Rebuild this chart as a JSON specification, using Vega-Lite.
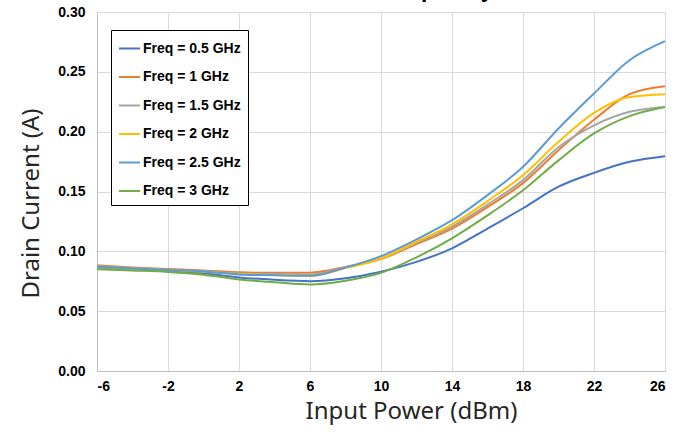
{
  "$schema": "https://vega.github.io/schema/vega-lite/v6.json",
  "autosize": {"type": "none"},
  "padding": {"left": 97, "top": 12, "right": 26, "bottom": 61},
  "width": 568,
  "height": 359,
  "background": "white",
  "title": {
    "text": "Drain Current vs. Frequency",
    "font": "Liberation Sans",
    "fontSize": 23,
    "fontWeight": "bold",
    "color": "#000000",
    "anchor": "middle",
    "frame": "group",
    "dx": -42,
    "baseline": "alphabetic",
    "offset": -15
  },
  "datasets": {
    "curves": [
      {"f": "Freq = 0.5 GHz", "p": -6, "i": 0.0866}, {"f": "Freq = 0.5 GHz", "p": -4, "i": 0.0853}, {"f": "Freq = 0.5 GHz", "p": -2, "i": 0.0840}, {"f": "Freq = 0.5 GHz", "p": 0, "i": 0.0816}, {"f": "Freq = 0.5 GHz", "p": 2, "i": 0.0782}, {"f": "Freq = 0.5 GHz", "p": 4, "i": 0.0762}, {"f": "Freq = 0.5 GHz", "p": 6, "i": 0.0751}, {"f": "Freq = 0.5 GHz", "p": 8, "i": 0.0775}, {"f": "Freq = 0.5 GHz", "p": 10, "i": 0.0830}, {"f": "Freq = 0.5 GHz", "p": 12, "i": 0.0912}, {"f": "Freq = 0.5 GHz", "p": 14, "i": 0.1025}, {"f": "Freq = 0.5 GHz", "p": 16, "i": 0.1190}, {"f": "Freq = 0.5 GHz", "p": 18, "i": 0.1360}, {"f": "Freq = 0.5 GHz", "p": 20, "i": 0.1540}, {"f": "Freq = 0.5 GHz", "p": 22, "i": 0.1656}, {"f": "Freq = 0.5 GHz", "p": 24, "i": 0.1748}, {"f": "Freq = 0.5 GHz", "p": 26, "i": 0.1795},
      {"f": "Freq = 1 GHz", "p": -6, "i": 0.0883}, {"f": "Freq = 1 GHz", "p": -4, "i": 0.0865}, {"f": "Freq = 1 GHz", "p": -2, "i": 0.0852}, {"f": "Freq = 1 GHz", "p": 0, "i": 0.0840}, {"f": "Freq = 1 GHz", "p": 2, "i": 0.0825}, {"f": "Freq = 1 GHz", "p": 4, "i": 0.0820}, {"f": "Freq = 1 GHz", "p": 6, "i": 0.0822}, {"f": "Freq = 1 GHz", "p": 8, "i": 0.0870}, {"f": "Freq = 1 GHz", "p": 10, "i": 0.0935}, {"f": "Freq = 1 GHz", "p": 12, "i": 0.1060}, {"f": "Freq = 1 GHz", "p": 14, "i": 0.1190}, {"f": "Freq = 1 GHz", "p": 16, "i": 0.1370}, {"f": "Freq = 1 GHz", "p": 18, "i": 0.1570}, {"f": "Freq = 1 GHz", "p": 20, "i": 0.1845}, {"f": "Freq = 1 GHz", "p": 22, "i": 0.2100}, {"f": "Freq = 1 GHz", "p": 24, "i": 0.2313}, {"f": "Freq = 1 GHz", "p": 26, "i": 0.2380},
      {"f": "Freq = 1.5 GHz", "p": -6, "i": 0.0875}, {"f": "Freq = 1.5 GHz", "p": -4, "i": 0.0860}, {"f": "Freq = 1.5 GHz", "p": -2, "i": 0.0848}, {"f": "Freq = 1.5 GHz", "p": 0, "i": 0.0835}, {"f": "Freq = 1.5 GHz", "p": 2, "i": 0.0815}, {"f": "Freq = 1.5 GHz", "p": 4, "i": 0.0810}, {"f": "Freq = 1.5 GHz", "p": 6, "i": 0.0805}, {"f": "Freq = 1.5 GHz", "p": 8, "i": 0.0865}, {"f": "Freq = 1.5 GHz", "p": 10, "i": 0.0940}, {"f": "Freq = 1.5 GHz", "p": 12, "i": 0.1070}, {"f": "Freq = 1.5 GHz", "p": 14, "i": 0.1206}, {"f": "Freq = 1.5 GHz", "p": 16, "i": 0.1390}, {"f": "Freq = 1.5 GHz", "p": 18, "i": 0.1595}, {"f": "Freq = 1.5 GHz", "p": 20, "i": 0.1870}, {"f": "Freq = 1.5 GHz", "p": 22, "i": 0.2053}, {"f": "Freq = 1.5 GHz", "p": 24, "i": 0.2166}, {"f": "Freq = 1.5 GHz", "p": 26, "i": 0.2207},
      {"f": "Freq = 2 GHz", "p": -6, "i": 0.0868}, {"f": "Freq = 2 GHz", "p": -4, "i": 0.0855}, {"f": "Freq = 2 GHz", "p": -2, "i": 0.0843}, {"f": "Freq = 2 GHz", "p": 0, "i": 0.0830}, {"f": "Freq = 2 GHz", "p": 2, "i": 0.0810}, {"f": "Freq = 2 GHz", "p": 4, "i": 0.0803}, {"f": "Freq = 2 GHz", "p": 6, "i": 0.0795}, {"f": "Freq = 2 GHz", "p": 8, "i": 0.0860}, {"f": "Freq = 2 GHz", "p": 10, "i": 0.0940}, {"f": "Freq = 2 GHz", "p": 12, "i": 0.1080}, {"f": "Freq = 2 GHz", "p": 14, "i": 0.1226}, {"f": "Freq = 2 GHz", "p": 16, "i": 0.1420}, {"f": "Freq = 2 GHz", "p": 18, "i": 0.1636}, {"f": "Freq = 2 GHz", "p": 20, "i": 0.1915}, {"f": "Freq = 2 GHz", "p": 22, "i": 0.2157}, {"f": "Freq = 2 GHz", "p": 24, "i": 0.2290}, {"f": "Freq = 2 GHz", "p": 26, "i": 0.2313},
      {"f": "Freq = 2.5 GHz", "p": -6, "i": 0.0870}, {"f": "Freq = 2.5 GHz", "p": -4, "i": 0.0857}, {"f": "Freq = 2.5 GHz", "p": -2, "i": 0.0845}, {"f": "Freq = 2.5 GHz", "p": 0, "i": 0.0832}, {"f": "Freq = 2.5 GHz", "p": 2, "i": 0.0807}, {"f": "Freq = 2.5 GHz", "p": 4, "i": 0.0800}, {"f": "Freq = 2.5 GHz", "p": 6, "i": 0.0795}, {"f": "Freq = 2.5 GHz", "p": 8, "i": 0.0865}, {"f": "Freq = 2.5 GHz", "p": 10, "i": 0.0960}, {"f": "Freq = 2.5 GHz", "p": 12, "i": 0.1100}, {"f": "Freq = 2.5 GHz", "p": 14, "i": 0.1260}, {"f": "Freq = 2.5 GHz", "p": 16, "i": 0.1470}, {"f": "Freq = 2.5 GHz", "p": 18, "i": 0.1706}, {"f": "Freq = 2.5 GHz", "p": 20, "i": 0.2027}, {"f": "Freq = 2.5 GHz", "p": 22, "i": 0.2319}, {"f": "Freq = 2.5 GHz", "p": 24, "i": 0.2597}, {"f": "Freq = 2.5 GHz", "p": 26, "i": 0.2756},
      {"f": "Freq = 3 GHz", "p": -6, "i": 0.0850}, {"f": "Freq = 3 GHz", "p": -4, "i": 0.0840}, {"f": "Freq = 3 GHz", "p": -2, "i": 0.0828}, {"f": "Freq = 3 GHz", "p": 0, "i": 0.0805}, {"f": "Freq = 3 GHz", "p": 2, "i": 0.0765}, {"f": "Freq = 3 GHz", "p": 4, "i": 0.0742}, {"f": "Freq = 3 GHz", "p": 6, "i": 0.0723}, {"f": "Freq = 3 GHz", "p": 8, "i": 0.0755}, {"f": "Freq = 3 GHz", "p": 10, "i": 0.0820}, {"f": "Freq = 3 GHz", "p": 12, "i": 0.0950}, {"f": "Freq = 3 GHz", "p": 14, "i": 0.1109}, {"f": "Freq = 3 GHz", "p": 16, "i": 0.1300}, {"f": "Freq = 3 GHz", "p": 18, "i": 0.1510}, {"f": "Freq = 3 GHz", "p": 20, "i": 0.1760}, {"f": "Freq = 3 GHz", "p": 22, "i": 0.1985}, {"f": "Freq = 3 GHz", "p": 24, "i": 0.2130}, {"f": "Freq = 3 GHz", "p": 26, "i": 0.2207}
    ]
  },
  "data": {"name": "curves"},
  "mark": {"type": "line", "interpolate": "monotone", "strokeWidth": 2, "clip": true},
  "encoding": {
    "x": {
      "field": "p", "type": "quantitative",
      "scale": {"domain": [-6, 26], "nice": false, "zero": false},
      "axis": {
        "title": "Input Power (dBm)",
        "values": [-6, -2, 2, 6, 10, 14, 18, 22, 26],
        "labelExpr": "'' + datum.value",
        "labelPadding": 8,
        "titlePadding": 6,
        "titleX": 314
      }
    },
    "y": {
      "field": "i", "type": "quantitative",
      "scale": {"domain": [0, 0.3], "nice": false},
      "axis": {
        "title": "Drain Current (A)",
        "values": [0, 0.05, 0.1, 0.15, 0.2, 0.25, 0.3],
        "format": ".2f",
        "labelPadding": 12,
        "titlePadding": 14,
        "titleY": 191
      }
    },
    "color": {
      "field": "f", "type": "nominal",
      "sort": ["Freq = 0.5 GHz", "Freq = 1 GHz", "Freq = 1.5 GHz", "Freq = 2 GHz", "Freq = 2.5 GHz", "Freq = 3 GHz"],
      "scale": {
        "domain": ["Freq = 0.5 GHz", "Freq = 1 GHz", "Freq = 1.5 GHz", "Freq = 2 GHz", "Freq = 2.5 GHz", "Freq = 3 GHz"],
        "range": ["#4472C4", "#ED7D31", "#A5A5A5", "#FFC000", "#5B9BD5", "#70AD47"]
      },
      "legend": {
        "title": null,
        "orient": "none",
        "legendX": 14,
        "legendY": 18,
        "padding": 7,
        "strokeColor": "#000000",
        "fillColor": "white",
        "symbolType": "stroke",
        "symbolSize": 441,
        "symbolStrokeWidth": 2,
        "rowPadding": 9.5,
        "labelOffset": 2,
        "labelFont": "Liberation Sans",
        "labelFontSize": 14,
        "labelFontWeight": "bold",
        "labelColor": "#000000",
        "labelLimit": 200
      }
    }
  },
  "config": {
    "view": {"stroke": null},
    "axis": {
      "domainColor": "#bfbfbf",
      "domainWidth": 1,
      "gridColor": "#d9d9d9",
      "gridWidth": 1,
      "ticks": false,
      "labelFont": "Liberation Sans",
      "labelFontSize": 14,
      "labelFontWeight": "bold",
      "labelColor": "#000000",
      "titleFont": "Noto Sans",
      "titleFontSize": 24,
      "titleFontWeight": "normal",
      "titleColor": "#262626"
    }
  }
}
